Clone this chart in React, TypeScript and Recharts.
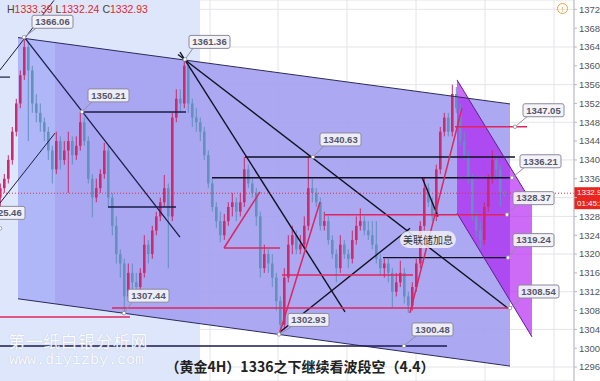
import React from "react";
import {
  ComposedChart, Bar, XAxis, YAxis, CartesianGrid, ReferenceLine, ReferenceArea, ReferenceDot,
} from "recharts";

// 4H gold bars, [open, high, low, close]; x is the bar number
const bars: [number, number, number, number][] = [
  [1332, 1335, 1330, 1334], [1334, 1337, 1333, 1336], [1336, 1341, 1335, 1340], [1340, 1347, 1339, 1346],
  [1346, 1353, 1345, 1352], [1352, 1359, 1351, 1358], [1358, 1366.06, 1357, 1364], [1364, 1365, 1344, 1359],
  [1359, 1360, 1350, 1352], [1352, 1354, 1348, 1350], [1350, 1352, 1346, 1348], [1348, 1349, 1344, 1346],
  [1346, 1347, 1340, 1342], [1342, 1343, 1335, 1338], [1338, 1346, 1337, 1344], [1344, 1345, 1338, 1340],
  [1340, 1344, 1339, 1342], [1342, 1346, 1333, 1344], [1344, 1345, 1339, 1341], [1341, 1345, 1340, 1343],
  [1343, 1350.21, 1342, 1348], [1348, 1349, 1343, 1344], [1344, 1345, 1335, 1336], [1336, 1337, 1327.8, 1332],
  [1332, 1336, 1331, 1334], [1334, 1338, 1333, 1337], [1337, 1343.6, 1336, 1342], [1342, 1343, 1330, 1332],
  [1332, 1333, 1324, 1326], [1326, 1328, 1318, 1320], [1320, 1321, 1315, 1318], [1318, 1319, 1307.44, 1311],
  [1311, 1318, 1310, 1316], [1316, 1318, 1312, 1314], [1314, 1316, 1311, 1313], [1313, 1317, 1312, 1316],
  [1316, 1324, 1315, 1322], [1322, 1323, 1318, 1320], [1320, 1326, 1319, 1325], [1325, 1329, 1324, 1328],
  [1328, 1332, 1327, 1331], [1331, 1336.8, 1330, 1334], [1334, 1335, 1317, 1328], [1328, 1350, 1327, 1349],
  [1349, 1355, 1348, 1353], [1353, 1355, 1350, 1352], [1352, 1361.36, 1351, 1360], [1360, 1361, 1350, 1352],
  [1352, 1353, 1347, 1349], [1349, 1351, 1346, 1348], [1348, 1349, 1344, 1346], [1346, 1347, 1340, 1341],
  [1341, 1342, 1334, 1335], [1335, 1336, 1329, 1330], [1330, 1331, 1325.5, 1327], [1327, 1329, 1322.5, 1324],
  [1324, 1328.5, 1323, 1327], [1327, 1331, 1326, 1330], [1330, 1333, 1328, 1331], [1331, 1332, 1327, 1329],
  [1329, 1333, 1328, 1331], [1331, 1340.6, 1330, 1338], [1338, 1339, 1334, 1335], [1335, 1336, 1332, 1333],
  [1333, 1334, 1326, 1328], [1328, 1329, 1315, 1317], [1317, 1322, 1316, 1320], [1320, 1321, 1316, 1318],
  [1318, 1320, 1313, 1315], [1315, 1316, 1308, 1310], [1310, 1311, 1302.93, 1305], [1305, 1317, 1304, 1315],
  [1315, 1324, 1314, 1322], [1322, 1326, 1320, 1324], [1324, 1325, 1320, 1321], [1321, 1324, 1320, 1322],
  [1322, 1328, 1321, 1326], [1326, 1340.63, 1325, 1334], [1334, 1336, 1331, 1333], [1333, 1334, 1330, 1331],
  [1331, 1332, 1325, 1326], [1326, 1329, 1325, 1327], [1327, 1328, 1322, 1323], [1323, 1324, 1319, 1320],
  [1320, 1321, 1314, 1317], [1317, 1324, 1316, 1322], [1322, 1323, 1319, 1320], [1320, 1321, 1317, 1319],
  [1319, 1325, 1318, 1323], [1323, 1328, 1322, 1326], [1326, 1329.7, 1325, 1327], [1327, 1328, 1324, 1325],
  [1325, 1327, 1323, 1324], [1324, 1327, 1321, 1322], [1322, 1327, 1318, 1319], [1319, 1320, 1315.5, 1317],
  [1317, 1319, 1315, 1318], [1318, 1319, 1314, 1316], [1316, 1317, 1308.6, 1312], [1312, 1316, 1311, 1314],
  [1314, 1318.6, 1313, 1316], [1316, 1317, 1309.5, 1311], [1311, 1312, 1307.5, 1309], [1309, 1314, 1308, 1313],
  [1313, 1319, 1312, 1318], [1318, 1327, 1317, 1326], [1326, 1336.3, 1325, 1334], [1334, 1335, 1330, 1331],
  [1331, 1332, 1327, 1328], [1328, 1339, 1327, 1338], [1338, 1347, 1337, 1346], [1346, 1350, 1345, 1349],
  [1349, 1350, 1345, 1346], [1346, 1356, 1345, 1354], [1354, 1355.5, 1350, 1351], [1351, 1352, 1343, 1344],
  [1344, 1346, 1340, 1341], [1341, 1342, 1335, 1336], [1336, 1337, 1327, 1328], [1328, 1329, 1323.5, 1325],
  [1325, 1327, 1321.2, 1323], [1323, 1331, 1322, 1330], [1330, 1337, 1329, 1336], [1336, 1342, 1335, 1340],
  [1340, 1341, 1336, 1338], [1338, 1339, 1330, 1333.2], [1333.2, 1333.39, 1332.24, 1332.93],
];

const lastHigh = 1333.39;
const lastLow = 1332.24;
const lastClose = 1332.93;

const priceTicks = [1296, 1300, 1304, 1308, 1312, 1316, 1320, 1324, 1328, 1332, 1336, 1340, 1344, 1348, 1352, 1356, 1360, 1364, 1368, 1372];
const gridBars = [0.75, 18, 35.25, 52.5, 69.5, 86.75, 104, 121.25, 138.5];

// channels and shaded zones as [bar, price] corners
const mainChannel: [number, number][] = [[4.5, 1366.0], [127.5, 1351.9], [127.5, 1296.2], [4.5, 1310.5]];
const leftTint: [number, number][] = [[4.5, 1366.0], [13.75, 1364.95], [13.75, 1309.4], [4.5, 1310.5]];
const fallingChannel: [number, number][] = [[114.25, 1357.0], [133, 1330.85], [133, 1302.4], [114.25, 1328.7]];

// trend lines: [x1, y1, x2, y2, colour, width]
const trendLines: [number, number, number, number, string, number][] = [
  [4.5, 1366.0, 127.5, 1351.9, "#2a2a5a", 1],
  [4.5, 1310.5, 127.5, 1296.2, "#2a2a5a", 1],
  [0, 1359.1, 13.5, 1373.9, "#1c1c3c", 1],
  [0, 1357.6, 2.5, 1357.6, "#1c1c3c", 1.2],
  [6.25, 1365.9, 45, 1323.6, "#1c1c4a", 1.3],
  [0, 1330.85, 13.75, 1345.7, "#1c1c3c", 1],
  [20.5, 1350.21, 46.5, 1350.21, "#1c1c4a", 1.5],
  [27, 1330.0, 44, 1330.0, "#1c1c4a", 1.5],
  [45, 1362.9, 86.25, 1307.7, "#111122", 1.4],
  [44.5, 1362.4, 127, 1308.5, "#111122", 1.4],
  [61.25, 1340.63, 128.75, 1340.63, "#111122", 1.4],
  [53, 1336.21, 127.5, 1336.21, "#111122", 1.4],
  [70, 1303.45, 102.5, 1325.5, "#111122", 1.4],
  [105.5, 1336.3, 109.5, 1328.0, "#111122", 1.4],
  [95.75, 1319.24, 127, 1319.24, "#111122", 1.4],
  [0, 1300.48, 111.75, 1300.48, "#1a1a50", 1.5],
  [114.25, 1357.0, 133, 1330.85, "#5e1f8c", 1],
  [114.25, 1328.7, 133, 1302.4, "#5e1f8c", 1],
  [0, 1306.63, 32.5, 1306.63, "#e0245e", 1.5],
  [28, 1308.54, 127, 1308.54, "#e0245e", 1.5],
  [81.25, 1328.37, 127.5, 1328.37, "#e0245e", 1.5],
  [70.5, 1315.56, 103.25, 1315.56, "#e0245e", 1.5],
  [56, 1321.29, 70, 1321.29, "#e0245e", 1.5],
  [56, 1321.29, 65, 1333.2, "#e0245e", 1.5],
  [70, 1303.45, 80, 1331.07, "#e0245e", 1.5],
  [102.5, 1307.5, 115.5, 1351.0, "#e0245e", 1.5],
  [113.75, 1347.05, 131.75, 1347.05, "#e0245e", 1.5],
];

// price callouts: [bar, price, box dx, box dy]
const callouts: [number, number, number, number][] = [
  [6, 1366.06, 8, -22], [20.5, 1350.21, 6, -23], [46.25, 1361.36, 4, -24], [0, 1325.46, -16, -22],
  [31, 1307.44, 4, -24], [78.25, 1340.63, 7, -24], [69.75, 1302.93, 9, -21], [101, 1300.48, 8, -23],
  [128.75, 1347.05, 8, -23], [128, 1336.21, 8, -23], [126.75, 1328.37, 6, -23], [127, 1319.24, 5, -24],
  [127.5, 1308.54, 8, -23],
];

const candleData = bars.map(([o, h, l, c], i) => ({ i, o, h, l, c }));

function Candle(props: any) {
  const { x, y, width, height, payload } = props;
  if (!payload) return null;
  const { o, h, l, c } = payload;
  const top = Math.min(y, y + height);
  const span = Math.abs(height);
  const toY = (v: number) => (h === l ? top : top + ((h - v) / (h - l)) * span);
  const color = c >= o ? "#cc2a6c" : "#6290bf";
  const mid = x + width / 2;
  const b1 = toY(Math.max(o, c));
  const b2 = toY(Math.min(o, c));
  return (
    <g>
      <line x1={mid} x2={mid} y1={top} y2={top + span} stroke={color} strokeWidth={1} />
      <rect x={x} y={b1} width={width} height={Math.max(1, b2 - b1)} fill={color} />
    </g>
  );
}

function polygonShape(pts: [number, number][], fill: string, opacity: number) {
  const xs = pts.map((p) => p[0]);
  const ys = pts.map((p) => p[1]);
  const xMin = Math.min(...xs), xMax = Math.max(...xs);
  const yMin = Math.min(...ys), yMax = Math.max(...ys);
  return (props: any) => {
    const { x, y, width, height } = props;
    const points = pts
      .map(([px, py]) => `${x + ((px - xMin) / (xMax - xMin)) * width},${y + ((yMax - py) / (yMax - yMin)) * height}`)
      .join(" ");
    return <polygon points={points} fill={fill} fillOpacity={opacity} stroke="none" />;
  };
}

function zone(pts: [number, number][], fill: string, opacity: number, key: string) {
  const xs = pts.map((p) => p[0]);
  const ys = pts.map((p) => p[1]);
  return (
    <ReferenceArea key={key} x1={Math.min(...xs)} x2={Math.max(...xs)} y1={Math.min(...ys)} y2={Math.max(...ys)}
      shape={polygonShape(pts, fill, opacity)} ifOverflow="visible" />
  );
}

function calloutShape(text: string, dx: number, dy: number) {
  return (props: any) => {
    const { cx, cy } = props;
    const bx = cx + dx, by = cy + dy;
    return (
      <g>
        <line x1={cx} y1={cy} x2={bx + 4} y2={by + 13} stroke="#8f8f9f" strokeWidth={1} />
        <circle cx={cx} cy={cy} r={1.8} fill="#fff" stroke="#8f8f9f" strokeWidth={0.8} />
        <rect x={bx} y={by} width={41} height={13} rx={2} fill="#f3f3f7" fillOpacity={0.92} stroke="#8a8a9c" strokeWidth={1} />
        <text x={bx + 20.5} y={by + 9.8} textAnchor="middle" fontSize={9.5} fontFamily="Arial, 'Liberation Sans', sans-serif"
          fontWeight={600} fill="#55556a">{text}</text>
      </g>
    );
  };
}

function PriceTag(props: any) {
  const vb = props.viewBox || {};
  const x = vb.x + vb.width;
  const y = vb.y;
  return (
    <g>
      <rect x={x} y={y - 6} width={30} height={22} fill="#e8261f" />
      <text x={x + 3} y={y + 1.5} fontSize={8} fill="#fff" fontFamily="Arial, 'Liberation Sans', sans-serif">{lastClose.toFixed(2)}</text>
      <text x={x + 3} y={y + 13} fontSize={8} fill="#fff" fontFamily="Arial, 'Liberation Sans', sans-serif">01:45:28</text>
    </g>
  );
}

// the 1332 tick sits under the last-price tag, so its text is left blank
const formatPrice = (v: number) => (v === 1332 ? "" : v.toFixed(2));

export default function App() {
  const sans = "Arial, 'Liberation Sans', sans-serif";
  return (
    <div style={{ position: "absolute", left: 0, top: 0, width: 600, height: 381, overflow: "hidden", background: "#fff" }}>
      <ComposedChart width={600} height={381} data={candleData} margin={{ top: 0, right: 0, bottom: 0, left: 0 }}>
        <CartesianGrid stroke="#e4e4ea" strokeWidth={1} />
        <XAxis type="number" dataKey="i" domain={[0, 143.5]} ticks={gridBars} hide allowDataOverflow />
        <YAxis orientation="right" domain={[1293.03, 1373.98]} ticks={priceTicks} width={26} allowDataOverflow
          tickFormatter={formatPrice} tickSize={3} tickMargin={2}
          tick={{ fontSize: 9.5, fill: "#555", fontFamily: sans, textAnchor: "start" }}
          axisLine={{ stroke: "#b8b8c0" }} tickLine={{ stroke: "#b8b8c0" }} />
        <ReferenceArea x1={0} x2={50} y1={1293.03} y2={1373.98} fill="#dde6fb" fillOpacity={1} ifOverflow="visible" />
        {zone(mainChannel, "#a39ef1", 0.9, "main")}
        {zone(leftTint, "#b8ccff", 0.45, "tint")}
        {zone(fallingChannel, "#b010f0", 0.62, "fall")}
        <Bar dataKey={(d: any) => [d.l, d.h]} barSize={2.6} shape={(p: any) => <Candle {...p} />} isAnimationActive={false} />
        {trendLines.map(([x1, y1, x2, y2, color, w], k) => (
          <ReferenceLine key={`t${k}`} segment={[{ x: x1, y: y1 }, { x: x2, y: y2 }]} stroke={color} strokeWidth={w} ifOverflow="visible" />
        ))}
        <ReferenceLine y={lastClose} stroke="#e0303a" strokeDasharray="1 2" strokeWidth={1} label={<PriceTag />} />
        {callouts.map(([bx, price, dx, dy], k) => (
          <ReferenceDot key={`c${k}`} x={bx} y={price} r={2} ifOverflow="visible" shape={calloutShape(price.toFixed(2), dx, dy)} />
        ))}
      </ComposedChart>

      <div style={{ position: "absolute", left: 7, top: 3, fontFamily: sans, fontSize: 10.5, color: "#444", whiteSpace: "nowrap" }}>
        H<span style={{ color: "#e3262e" }}>{lastHigh.toFixed(2)}</span>
        <span style={{ marginLeft: 3 }}>L</span><span style={{ color: "#e3262e" }}>{lastLow.toFixed(2)}</span>
        <span style={{ marginLeft: 3 }}>C</span><span style={{ color: "#e3262e" }}>{lastClose.toFixed(2)}</span>
      </div>
      <div style={{ position: "absolute", left: 557, top: 3, width: 11, height: 11, borderRadius: 6, border: "1px solid #e8a440",
        color: "#e8a440", fontSize: 8, lineHeight: "11px", textAlign: "center", fontFamily: sans, boxSizing: "border-box" }}>!</div>

      <div style={{ position: "absolute", left: 400, top: 231, width: 56, height: 17, borderRadius: 9, background: "rgba(240,240,246,0.85)",
        fontFamily: "'Noto Sans CJK SC', sans-serif", fontSize: 10, lineHeight: "17px", textAlign: "center", color: "#333" }}>美联储加息</div>

      <div style={{ position: "absolute", left: 8, top: 328, fontFamily: "'Noto Sans CJK SC', sans-serif", fontSize: 17, color: "#fff",
        opacity: 0.9, textShadow: "0 0 1px #aab2c8", letterSpacing: 0.5, whiteSpace: "nowrap" }}>第一纸白银分析网</div>
      <div style={{ position: "absolute", left: 9, top: 352, fontFamily: "'Liberation Mono', 'DejaVu Sans Mono', monospace", fontSize: 15,
        color: "#fff", opacity: 0.9, textShadow: "0 0 1px #aab2c8", whiteSpace: "nowrap" }}>www.diyizby.com</div>

      <div style={{ position: "absolute", left: 0, width: 600, top: 356, textAlign: "center", fontFamily: "'Noto Sans CJK SC', sans-serif",
        fontSize: 14, fontWeight: 700, color: "#222", whiteSpace: "nowrap" }}>（黄金4H）1336之下继续看波段空（4.4）</div>
    </div>
  );
}
